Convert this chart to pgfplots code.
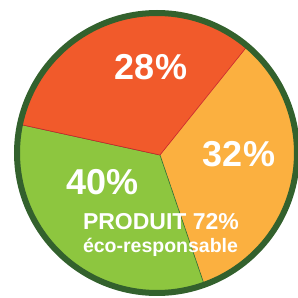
\documentclass[border=0pt]{standalone}
\usepackage{fontspec}
\setmainfont{Liberation Sans}
\usepackage{pgfplots}
\pgfplotsset{compat=1.18}
\definecolor{cred}{HTML}{F15A2B}
\definecolor{corange}{HTML}{FBB040}
\definecolor{cgreen}{HTML}{8DC63F}
\definecolor{cring}{HTML}{33612D}
\definecolor{credline}{HTML}{C8242B}
\definecolor{cgreenline}{HTML}{2E6B30}
\begin{document}
\begin{tikzpicture}
\begin{axis}[width=298pt,height=298pt,scale only axis,
  xmin=0,xmax=298,ymin=0,ymax=298,hide axis,clip=true]
% slice boundary angles (degrees, about the circle centre) as drawn: 49.8, 168.2, 289.75
\addplot[draw=none,fill=corange,domain=289.75:409.8,samples=90,variable=\t]
  ({157+139*cos(\t)},{145+139*sin(\t)}) -- (axis cs:160,143) -- cycle;
\addplot[draw=cgreenline,line width=0.6pt,fill=cgreen,domain=168.2:289.75,samples=90,variable=\t]
  ({157+139*cos(\t)},{145+139*sin(\t)}) -- (axis cs:160,143) -- cycle;
\addplot[draw=credline,line width=0.6pt,fill=cred,domain=49.8:168.2,samples=90,variable=\t]
  ({157+139*cos(\t)},{145+139*sin(\t)}) -- (axis cs:160,143) -- cycle;
\addplot[draw=cring,line width=6pt,domain=0:360,samples=181,variable=\t]
  ({157+140*cos(\t)},{145+140*sin(\t)});
\node[anchor=base,text=white,font=\fontsize{36}{36}\selectfont\bfseries] at (axis cs:151,218) {28\%};
\node[anchor=base,text=white,font=\fontsize{36}{36}\selectfont\bfseries] at (axis cs:239,131) {32\%};
\node[anchor=base,text=white,font=\fontsize{36}{36}\selectfont\bfseries] at (axis cs:102.5,103) {40\%};
\node[anchor=base,text=white,font=\fontsize{23}{23}\selectfont\bfseries] at (axis cs:161,68) {PRODUIT 72\%};
\node[anchor=base,text=white,font=\fontsize{19.5}{19.5}\selectfont\bfseries] at (axis cs:160.5,45) {éco-responsable};
\end{axis}
\pgfresetboundingbox
\useasboundingbox (current axis.south west) rectangle (current axis.north east);
\end{tikzpicture}
\end{document}
